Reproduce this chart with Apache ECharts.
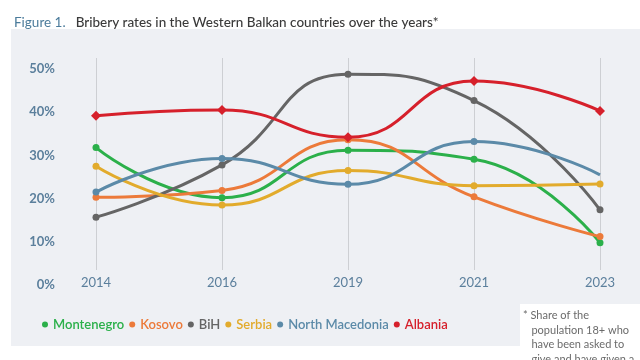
<!DOCTYPE html>
<html><head><meta charset="utf-8">
<script src="https://cdn.jsdelivr.net/npm/echarts@6/dist/echarts.min.js"></script>
<style>html,body{margin:0;padding:0;background:#fff}#c{width:640px;height:360px}</style>
</head><body><div id="c"></div>
<script>
const years = ['2014','2016','2019','2021','2023'];
const yTicks = [0,10,20,30,40,50];
const montenegro = [31.8, 20.2, 31.2, 29.1, 9.8];
const kosovo = [20.3, 21.9, 33.6, 20.4, 11.2];
const bih = [15.7, 27.8, 48.8, 42.7, 17.4];
const serbia = [27.5, 18.5, 26.5, 23.0, 23.4];
const northMacedonia = [21.5, 29.3, 23.3, 33.2, 25.5];
const albania = [39.2, 40.5, 34.2, 47.2, 40.3];
const names = ['Montenegro','Kosovo','BiH','Serbia','North Macedonia','Albania'];
const colors = ['#2bb04a','#ec7a3a','#656565','#e2ab2c','#5b8aa8','#d6202b'];
const values = [montenegro, kosovo, bih, serbia, northMacedonia, albania];

const font = 'Lato, "Open Sans", sans-serif';
const rich = {};
names.forEach((n,i)=>{ rich['c'+i] = {color: colors[i], fontSize: 13, fontWeight: 600, fontFamily: font}; });

const series = names.map((n,i)=>({
  name: n, type: 'line', smooth: 0.5,
  xAxisIndex: 0, yAxisIndex: 0,
  data: values[i].map((v,j)=> (i===4 && j===4) ? {value: v, symbol: 'none'} : v),
  symbol: i===5 ? 'diamond' : 'circle',
  symbolSize: i===5 ? 10 : 7,
  lineStyle: {width: 3, color: colors[i]},
  itemStyle: {color: colors[i]},
  z: 3 + i
}));

const chart = echarts.init(document.getElementById('c'), null, {renderer: 'canvas'});
chart.setOption({
  animation: false,
  backgroundColor: '#fff',
  graphic: [
    {type: 'rect', shape: {x: 11, y: 29, width: 629, height: 317}, style: {fill: '#eef0f4'}, z: -10, silent: true},
    {type: 'rect', shape: {x: 520, y: 304, width: 120, height: 56}, style: {fill: '#ffffff'}, z: -9, silent: true},
    {type: 'text', left: 523, top: 308, z: 10, style: {
      text: '* Share of the\n   population 18+ who\n   have been asked to\n   give and have given a',
      fill: '#6b6b6b', font: '11px ' + font, lineHeight: 14.7}}
  ],
  title: {
    text: '{a|Figure 1.}  {b|Bribery rates in the Western Balkan countries over the years*}',
    left: 9, top: 9,
    textStyle: {fontWeight: 'normal', rich: {
      a: {color: '#4b7b9b', fontSize: 13.5, fontWeight: 'normal', fontFamily: font},
      b: {color: '#3a3a3a', fontSize: 13.5, fontWeight: 500, fontFamily: font}
    }}
  },
  legend: {
    data: names, left: 37, top: 313, icon: 'circle', itemWidth: 6, itemHeight: 6, itemGap: 5,
    formatter: name => '{c' + names.indexOf(name) + '|' + name + '}',
    textStyle: {rich: rich}
  },
  grid: [
    {left: 96, right: 40, top: 69, bottom: 75},
    {left: 96, right: 40, top: 58, bottom: 90}
  ],
  xAxis: [
    {type: 'category', data: years, boundaryGap: false, gridIndex: 0,
     axisLine: {show: false}, axisTick: {show: false}, splitLine: {show: false},
     axisLabel: {margin: -9, color: '#5b7f9c', fontSize: 13, fontFamily: font}},
    {type: 'category', data: years, boundaryGap: false, gridIndex: 1,
     axisLine: {show: false}, axisTick: {show: false}, axisLabel: {show: false},
     splitLine: {show: true, lineStyle: {color: '#cdcfd3', width: 1}}}
  ],
  yAxis: [
    {type: 'value', min: 0, max: 50, interval: 10, gridIndex: 0,
     axisLine: {show: false}, axisTick: {show: false}, splitLine: {show: false},
     axisLabel: {margin: 41, color: '#5b7f9c', fontSize: 13, fontWeight: 'bold', fontFamily: font,
       formatter: v => yTicks.includes(v) ? v + '%' : ''}},
    {type: 'value', gridIndex: 1, show: false}
  ],
  series: series
});
</script></body></html>
